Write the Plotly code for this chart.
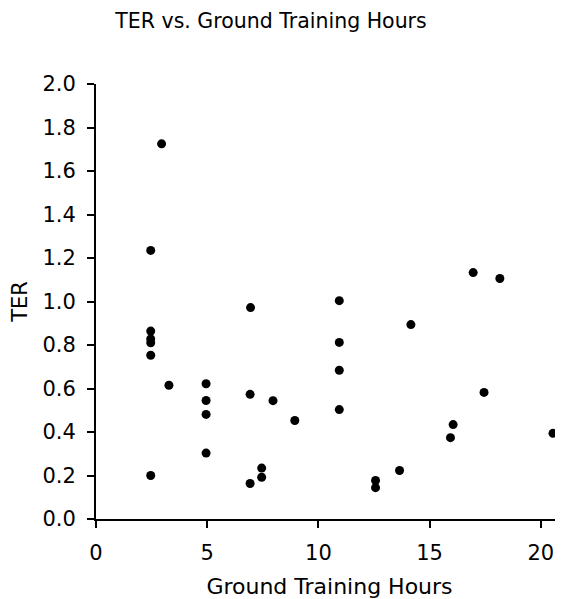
import plotly.graph_objects as go

ground_hours = [2.46, 2.46, 2.46, 2.46, 2.46, 2.46, 2.95, 3.28,
                4.95, 4.95, 4.95, 4.95, 6.95, 6.93, 6.93, 7.45, 7.45,
                7.96, 8.94, 10.94, 10.94, 10.94, 10.94, 12.57, 12.57,
                13.65, 14.16, 15.94, 16.06, 16.96, 17.45, 18.16, 20.55]
ter = [1.235, 0.864, 0.828, 0.810, 0.753, 0.200, 1.725, 0.615,
       0.622, 0.545, 0.481, 0.303, 0.972, 0.573, 0.163, 0.234, 0.192,
       0.544, 0.453, 1.004, 0.812, 0.684, 0.503, 0.177, 0.144,
       0.223, 0.894, 0.374, 0.434, 1.133, 0.582, 1.106, 0.394]

x_ticks = [0, 5, 10, 15, 20]
y_ticks = [0.0, 0.2, 0.4, 0.6, 0.8, 1.0, 1.2, 1.4, 1.6, 1.8, 2.0]

FONT = "DejaVu Sans, Verdana, sans-serif"

fig = go.Figure(go.Scatter(
    x=ground_hours, y=ter, mode="markers",
    marker=dict(color="black", size=9),
    showlegend=False,
))

axis_common = dict(
    showgrid=False, zeroline=False, showline=True, linecolor="black",
    linewidth=2, ticks="outside", ticklen=7, tickwidth=2, tickcolor="black",
    ticklabelstandoff=7, automargin=False,
    tickfont=dict(family=FONT, size=21, color="black"),
)

fig.update_layout(
    width=555, height=591,
    paper_bgcolor="white", plot_bgcolor="white",
    margin=dict(l=88, r=0, t=76, b=80),
    font=dict(family=FONT, size=21, color="black"),
    title=dict(text="TER vs. Ground Training Hours", x=263 / 555, xanchor="center",
               xref="container", yref="container", y=1 - 13 / 591, yanchor="middle",
               font=dict(family=FONT, size=20.5, color="black")),
    xaxis=dict(range=[0, 21], tickvals=x_ticks, ticktext=[str(v) for v in x_ticks],
               title=dict(text="Ground Training Hours", standoff=15,
                          font=dict(family=FONT, size=22, color="black")),
               **axis_common),
    yaxis=dict(range=[0, 2], tickvals=y_ticks, ticktext=[f"{v:.1f}" for v in y_ticks],
               title=dict(text="TER", standoff=11,
                          font=dict(family=FONT, size=21, color="black")),
               **axis_common),
)

fig.write_html("out.html")
